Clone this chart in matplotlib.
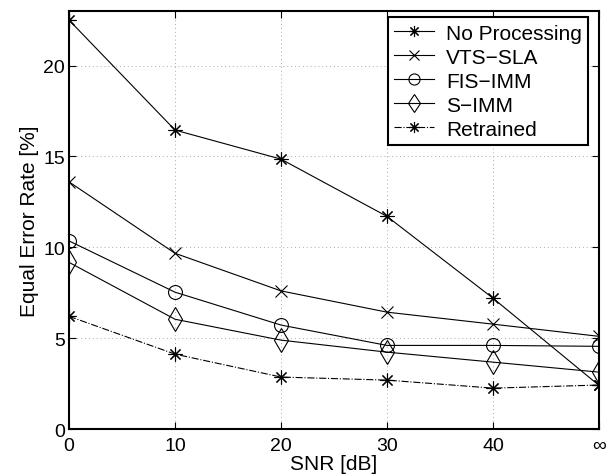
import matplotlib
matplotlib.use("Agg")
import matplotlib.pyplot as plt

plt.rcParams['font.family'] = ['Liberation Sans', 'DejaVu Sans']
plt.rcParams['font.size'] = 14

snr = [0, 10, 20, 30, 40, 50]
snr_labels = ['0', '10', '20', '30', '40', '\u221e']

no_processing = [22.5, 16.45, 14.85, 11.7, 7.2, 2.4]
vts_sla = [13.6, 9.67, 7.6, 6.43, 5.77, 5.1]
fis_imm = [10.35, 7.53, 5.72, 4.6, 4.6, 4.55]
s_imm = [9.17, 6.04, 4.89, 4.23, 3.68, 3.13]
retrained = [6.2, 4.12, 2.86, 2.69, 2.25, 2.42]

asterisk = (8, 2, 0)

fig = plt.figure(figsize=(6.06, 4.77), dpi=100)
ax = fig.add_axes([0.1139, 0.0985, 0.8745, 0.8763])

style = dict(color='black', lw=0.8, mfc='none', mec='black', mew=0.8)
ax.plot(snr, no_processing, marker=asterisk, ms=10, label='No Processing', **style)
ax.plot(snr, vts_sla, marker='x', ms=9, label='VTS\u2212SLA', **style)
ax.plot(snr, fis_imm, marker='o', ms=10, label='FIS\u2212IMM', **style)
ax.plot(snr, s_imm, marker='d', ms=12, label='S\u2212IMM', **style)
ax.plot(snr, retrained, marker=asterisk, ms=10, ls='-.', label='Retrained', **style)

ax.set_xlim(0, 50)
ax.set_ylim(0, 23)
ax.set_xticks(snr)
ax.set_xticklabels(snr_labels)
ax.set_yticks([0, 5, 10, 15, 20])
ax.grid(True, color='#aaaaaa', lw=0.7, dashes=(1, 3))
ax.tick_params(direction='in', length=5, width=0.8)
ax.tick_params(axis='x', pad=6)
ax.tick_params(axis='y', pad=3)
ax.xaxis.set_ticks_position('both')
ax.yaxis.set_ticks_position('both')
for s in ax.spines.values():
    s.set_linewidth(1.5)

ax.set_xlabel('SNR [dB]', fontsize=15, labelpad=0)
ax.set_ylabel('Equal Error Rate [%]', fontsize=15, labelpad=3)

leg = ax.legend(loc='upper right', fancybox=False, framealpha=1, edgecolor='black',
                borderaxespad=0.3, handlelength=1.9, labelspacing=0.24,
                borderpad=0.3, handletextpad=0.6, fontsize=15, markerscale=0.8,
                bbox_to_anchor=(0.992, 1.0))
leg.get_frame().set_linewidth(1.5)

fig.savefig('out.png', dpi=100)
